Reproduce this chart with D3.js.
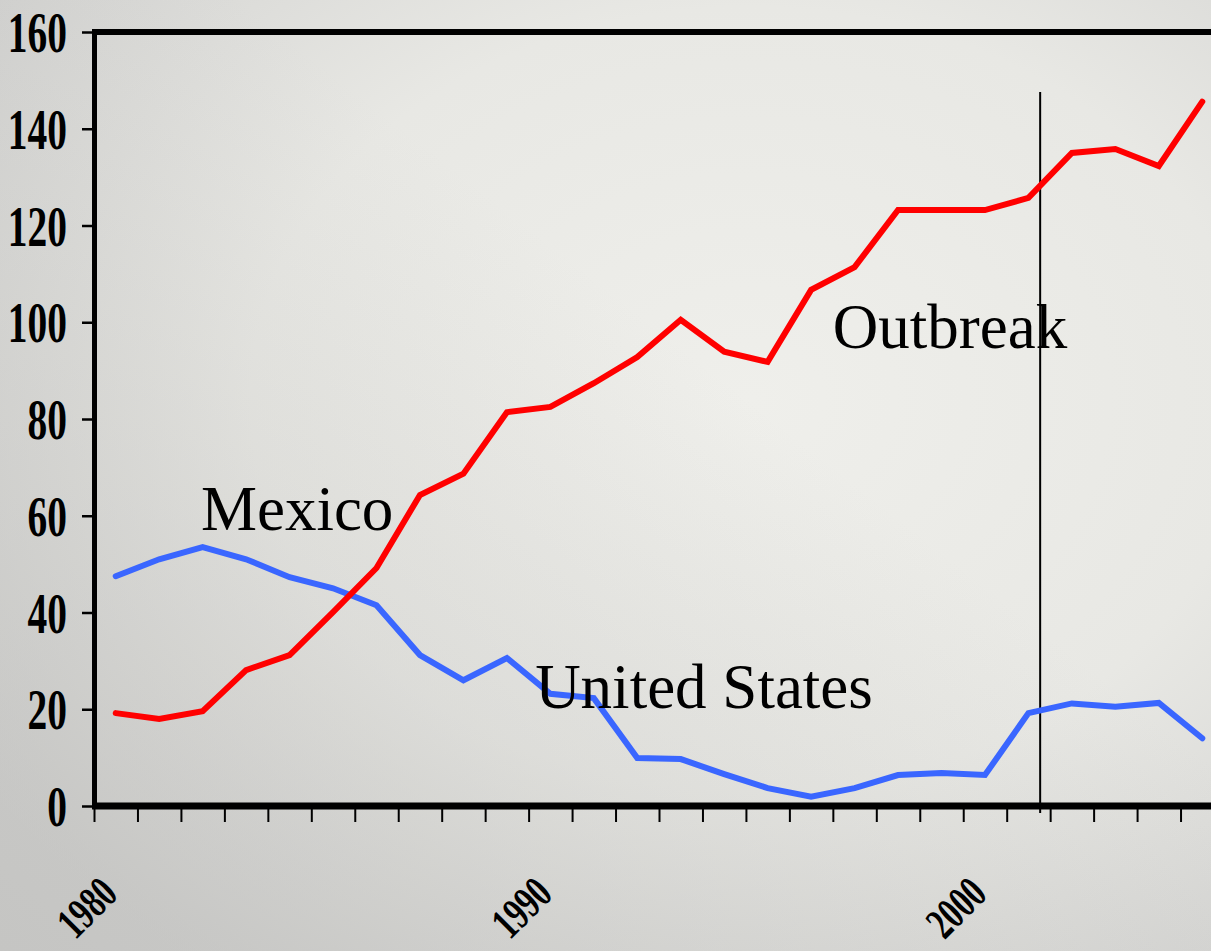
<!DOCTYPE html>
<html>
<head>
<meta charset="utf-8">
<script src="https://cdn.jsdelivr.net/npm/d3@7"></script>
<style>
html, body { margin: 0; padding: 0; overflow: hidden; background: #dcdcda; }
</style>
</head>
<body>
<div id="chart"></div>
<script>
// data
var years = [1980, 1981, 1982, 1983, 1984, 1985, 1986, 1987, 1988, 1989,
             1990, 1991, 1992, 1993, 1994, 1995, 1996, 1997, 1998, 1999,
             2000, 2001, 2002, 2003, 2004, 2005];
var mexico = [19.2, 18, 19.6, 28.1, 31.2, 40.1, 49.2, 64.3, 68.7, 81.4,
              82.5, 87.4, 92.8, 100.5, 93.9, 91.8, 106.7, 111.4, 123.2, 123.2,
              123.2, 125.7, 135, 135.8, 132.3, 145.6];
var unitedStates = [47.5, 51, 53.5, 51, 47.3, 45, 41.5, 31.2, 26, 30.6,
                    23.2, 22.3, 9.9, 9.7, 6.6, 3.7, 1.9, 3.7, 6.4, 6.8,
                    6.4, 19.2, 21.2, 20.5, 21.3, 14];
var yTicks = [0, 20, 40, 60, 80, 100, 120, 140, 160];
var xLabels = [1980, 1990, 2000];
var outbreakYear = 2001.27;

var width = 1211, height = 951;
var svg = d3.select("#chart").append("svg")
    .attr("width", width).attr("height", height);

//背景
var defs = svg.append("defs");
var grad = defs.append("radialGradient").attr("id", "bg")
    .attr("cx", "0.62").attr("cy", "0.42").attr("r", "0.75");
grad.append("stop").attr("offset", "0").attr("stop-color", "#efefeb");
grad.append("stop").attr("offset", "0.55").attr("stop-color", "#e8e8e4");
grad.append("stop").attr("offset", "1").attr("stop-color", "#d2d2d0");
svg.append("rect").attr("width", width).attr("height", height).attr("fill", "url(#bg)");
var shade = defs.append("linearGradient").attr("id", "shade")
    .attr("x1", "0").attr("y1", "1").attr("x2", "0.6").attr("y2", "0.4");
shade.append("stop").attr("offset", "0").attr("stop-color", "#b8b8b6").attr("stop-opacity", 0.5);
shade.append("stop").attr("offset", "1").attr("stop-color", "#b8b8b6").attr("stop-opacity", 0);
svg.append("rect").attr("width", width).attr("height", height).attr("fill", "url(#shade)");

// scales
var x = d3.scaleLinear().domain([years[0] - 0.5, years[years.length - 1] + 0.5]).range([94, 1224]);
var y = d3.scaleLinear().domain([0, 160]).range([806, 32]);

var serif = "'Liberation Serif', 'Times New Roman', serif";

// y axis
var ySx = 0.68;
var yAxis = svg.append("g").attr("transform", "translate(94,0)")
    .call(d3.axisLeft(y).tickValues(yTicks).tickSize(12).tickSizeOuter(0));
yAxis.select(".domain").attr("stroke", "#000").attr("stroke-width", 5);
yAxis.selectAll(".tick line").attr("stroke", "#000").attr("stroke-width", 2.5);
yAxis.selectAll(".tick text")
    .attr("x", -27 / ySx)
    .attr("dy", "0.34em")
    .attr("transform", "scale(" + ySx + ",1)")
    .style("font-family", serif)
    .style("font-weight", "bold")
    .style("font-size", "58px")
    .attr("fill", "#000");

// x axis ticks (between years)
var xTickVals = years.concat([years[years.length - 1] + 1]).map(function (d) { return d - 0.5; });
var xAxis = svg.append("g").attr("transform", "translate(0,806)")
    .call(d3.axisBottom(x).tickValues(xTickVals).tickSize(16).tickSizeOuter(0).tickFormat(""));
xAxis.select(".domain").remove();
xAxis.selectAll(".tick line").attr("stroke", "#000").attr("stroke-width", 2);

// frame lines
svg.append("line").attr("x1", 92).attr("x2", 1224).attr("y1", y(0)).attr("y2", y(0))
    .attr("stroke", "#000").attr("stroke-width", 7);
svg.append("line").attr("x1", 92).attr("x2", 1224).attr("y1", y(160)).attr("y2", y(160))
    .attr("stroke", "#000").attr("stroke-width", 6);

// year labels
svg.selectAll(".ylab").data(xLabels).enter().append("text")
    .attr("class", "ylab")
    .attr("transform", function (d) { return "translate(" + (x(d) + 4) + ",896) rotate(-45) scale(0.7,1)"; })
    .attr("text-anchor", "end")
    .style("font-family", serif)
    .style("font-weight", "bold")
    .style("font-size", "45px")
    .attr("fill", "#000")
    .text(function (d) { return d; });

// outbreak line
svg.append("line")
    .attr("x1", x(outbreakYear)).attr("x2", x(outbreakYear))
    .attr("y1", 92).attr("y2", 813)
    .attr("stroke", "#000").attr("stroke-width", 2);

// lines
var line = d3.line().x(function (d, i) { return x(years[i]); }).y(function (d) { return y(d); });
svg.append("path").datum(unitedStates).attr("d", line)
    .attr("fill", "none").attr("stroke", "#3a66ff").attr("stroke-width", 6)
    .attr("stroke-linejoin", "miter").attr("stroke-linecap", "round");
svg.append("path").datum(mexico).attr("d", line)
    .attr("fill", "none").attr("stroke", "#ff0000").attr("stroke-width", 6)
    .attr("stroke-linejoin", "miter").attr("stroke-linecap", "round");

// annotations
function note(txt, yr, v) {
    svg.append("text")
        .attr("x", x(yr)).attr("y", y(v))
        .style("font-family", serif)
        .style("font-size", "63px")
        .attr("fill", "#000")
        .text(txt);
}
note("Mexico", 1981.96, 57.05);
note("United States", 1989.65, 20.26);
note("Outbreak", 1996.5, 94.7);
</script>
</body>
</html>
